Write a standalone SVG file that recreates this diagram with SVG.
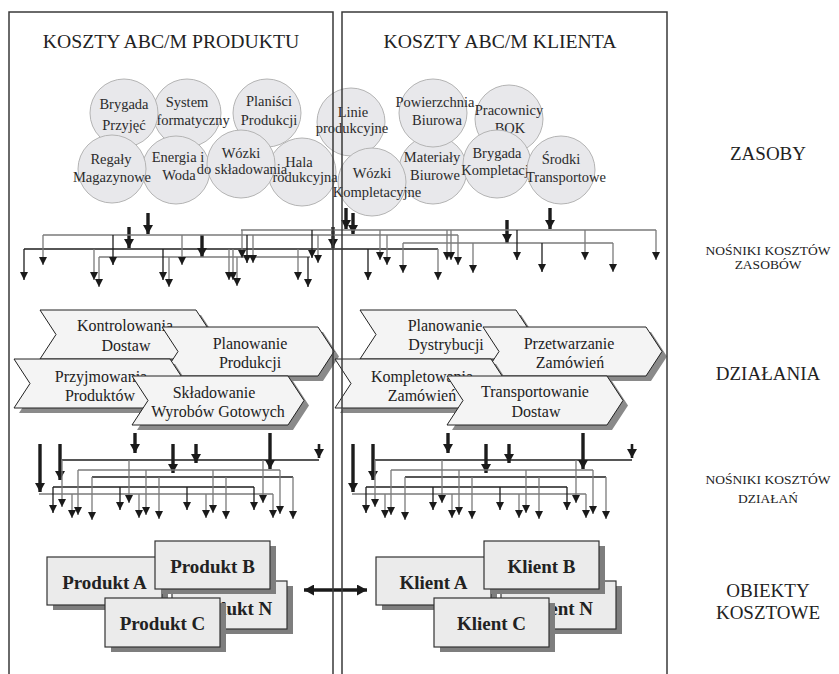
<svg xmlns="http://www.w3.org/2000/svg" xmlns:xlink="http://www.w3.org/1999/xlink" width="839" height="674" viewBox="0 0 839 674">
<style>
.c{fill:#e8e8eb;stroke:#b4b4b4;stroke-width:1}
.ct{font-family:"Liberation Serif","Times New Roman",serif;font-size:14.5px;fill:#2b2b2b;text-anchor:middle}
.t{font-family:"Liberation Serif","Times New Roman",serif;fill:#222;text-anchor:middle}
.hg{stroke:#7a7a7a;stroke-width:1.3;fill:none}
.hk{stroke:#1e1e1e;stroke-width:1.3;fill:none}
.dg{stroke:#7a7a7a;stroke-width:1.3;fill:none;marker-end:url(#ah)}
.dk{stroke:#1e1e1e;stroke-width:1.3;fill:none;marker-end:url(#ah)}
.th{stroke:#1c1c1c;stroke-width:3.4;fill:none;marker-end:url(#ahT)}
.ch{fill:#f4f4f4;stroke:#222;stroke-width:1}
.chs{fill:#8a8a8a}
.cht{font-family:"Liberation Serif","Times New Roman",serif;font-size:16px;fill:#222;text-anchor:middle}
.b{fill:#ebebeb;stroke:#333;stroke-width:1.2}
.bs{fill:#7e7e7e}
.bt{font-family:"Liberation Serif","Times New Roman",serif;font-size:19px;font-weight:bold;fill:#222;text-anchor:middle}
.pan{fill:none;stroke:#3a3a3a;stroke-width:1.5}
</style>
<defs>
<marker id="ah" markerUnits="userSpaceOnUse" markerWidth="8" markerHeight="8" refX="8" refY="4" orient="auto"><path d="M0,0 L8,4 L0,8 Z" fill="#1a1a1a"/></marker>
<marker id="ahT" markerUnits="userSpaceOnUse" markerWidth="9" markerHeight="10" refX="9" refY="5" orient="auto"><path d="M0,0 L9,5 L0,10 Z" fill="#1a1a1a"/></marker>
<marker id="ahD" markerUnits="userSpaceOnUse" markerWidth="10" markerHeight="11" refX="10" refY="5.5" orient="auto-start-reverse"><path d="M0,0 L10,5.5 L0,11 Z" fill="#1a1a1a"/></marker>
<g id="actnet">
<path class="th" d="M40 444V492"/>
<path class="th" d="M60 444V480"/>
<path class="th" d="M135 433V453"/>
<path class="th" d="M173 444V473"/>
<path class="th" d="M196 444V463"/>
<path class="th" d="M270 433V469"/>
<path class="th" d="M319 444V458" style="stroke-width:2.6"/>
<path class="hk" d="M62 460H319"/>
<path class="hg" d="M78 470H280"/>
<path class="hk" d="M92 477H293"/>
<path class="hk" d="M53 487H254"/>
<path class="hg" d="M39 494H273"/>
<path class="dg" d="M62 460V507"/><path class="dg" d="M129 460V503"/><path class="dg" d="M263 460V503"/>
<path class="dg" d="M78 470V515"/><path class="dg" d="M146 470V515"/><path class="dg" d="M213 470V513"/><path class="dg" d="M280 470V514"/>
<path class="dg" d="M92 477V520"/><path class="dg" d="M159 477V519"/><path class="dg" d="M226 477V519"/><path class="dg" d="M293 477V519"/>
<path class="dk" d="M53 487V513"/><path class="dk" d="M120 487V510"/><path class="dk" d="M187 487V510"/><path class="dk" d="M254 487V510"/>
<path class="dg" d="M72 494V518"/><path class="dg" d="M139 494V518"/><path class="dg" d="M206 494V518"/><path class="dg" d="M273 494V518"/>
</g>
</defs>
<rect width="839" height="674" fill="#ffffff"/>

<!-- titles -->
<text class="t" x="171" y="48" style="font-size:19.7px">KOSZTY ABC/M PRODUKTU</text>
<text class="t" x="500" y="48" style="font-size:19.7px">KOSZTY ABC/M KLIENTA</text>

<!-- resources (left) -->
<g id="r-system"><circle class="c" cx="187" cy="113" r="34"/><text class="ct" x="187" y="107">System</text><text class="ct" x="187" y="125">Informatyczny</text></g>
<g id="r-brygada-przyjec"><circle class="c" cx="124" cy="113" r="34"/><text class="ct" x="124" y="109">Brygada</text><text class="ct" x="124" y="130">Przyjęć</text></g>
<g id="r-planisci"><circle class="c" cx="267" cy="113" r="34"/><text class="ct" x="269" y="106">Planiści</text><text class="ct" x="269" y="125">Produkcji</text></g>
<g id="r-energia"><circle class="c" cx="176" cy="170" r="34"/><text class="ct" x="178" y="162">Energia i</text><text class="ct" x="179" y="180">Woda</text></g>
<g id="r-regaly"><circle class="c" cx="112" cy="169" r="34"/><text class="ct" x="111" y="164">Regały</text><text class="ct" x="112" y="182">Magazynowe</text></g>
<g id="r-hala"><circle class="c" cx="302" cy="172" r="34"/><text class="ct" x="299" y="167">Hala</text><text class="ct" x="301" y="182">Produkcyjna</text></g>
<g id="r-wozki-skl"><circle class="c" cx="241" cy="164" r="34"/><text class="ct" x="241" y="158">Wózki</text><text class="ct" x="242" y="174">do składowania</text></g>
<!-- resources (right) -->
<g id="r-linie"><circle class="c" cx="351" cy="122" r="34"/><text class="ct" x="353" y="117">Linie</text><text class="ct" x="352" y="133">produkcyjne</text></g>
<g id="r-materialy"><circle class="c" cx="433" cy="170" r="34"/><text class="ct" x="432" y="162">Materiały</text><text class="ct" x="435" y="180">Biurowe</text></g>
<g id="r-powierzchnia"><circle class="c" cx="433" cy="113" r="34"/><text class="ct" x="435" y="107">Powierzchnia</text><text class="ct" x="437" y="125">Biurowa</text></g>
<g id="r-pracownicy"><circle class="c" cx="509" cy="119" r="34"/><text class="ct" x="509" y="115">Pracownicy</text><text class="ct" x="510" y="133">BOK</text></g>
<g id="r-brygada-kompl"><circle class="c" cx="497" cy="164" r="34"/><text class="ct" x="497" y="158">Brygada</text><text class="ct" x="497" y="175">Kompletacji</text></g>
<g id="r-srodki"><circle class="c" cx="561" cy="170" r="34"/><text class="ct" x="561" y="164">Środki</text><text class="ct" x="566" y="182">Transportowe</text></g>
<g id="r-wozki-kompl"><circle class="c" cx="372" cy="182" r="34"/><text class="ct" x="372" y="178">Wózki</text><text class="ct" x="377" y="197">Kompletacyjne</text></g>

<!-- connectors -->
<g id="connectors">
<path class="th" d="M148 213V234"/>
<path class="th" d="M129 227V248"/>
<path class="th" d="M202 235V257"/>
<path class="th" d="M333 227V248"/>
<path class="th" d="M346 208V229"/>
<path class="th" d="M353 213V234"/>
<path class="th" d="M507 220V243"/>
<path class="th" d="M550 208V229"/>
<path class="hg" d="M241 230H656"/>
<path class="hg" d="M43 235H458"/>
<path class="hk" d="M24 249H438"/>
<path class="hg" d="M99 257H310"/>
<path class="hg" d="M403 243H613"/>
<path class="dg" d="M242 230V258"/><path class="dk" d="M312 230V258"/><path class="dg" d="M380 230V260"/><path class="dg" d="M447 230V260"/><path class="dg" d="M451 230V260"/><path class="dk" d="M517 230V260"/><path class="dg" d="M585 230V260"/><path class="dg" d="M656 230V260"/>
<path class="dg" d="M43 235V265"/><path class="dk" d="M113 235V265"/><path class="dg" d="M182 235V265"/><path class="dk" d="M247 235V263"/><path class="dg" d="M253 235V263"/><path class="dg" d="M318 235V263"/><path class="dg" d="M387 235V265"/><path class="dg" d="M458 235V265"/>
<path class="dk" d="M24 249V280"/><path class="dg" d="M94 249V280"/><path class="dk" d="M163 249V280"/><path class="dg" d="M229 249V280"/><path class="dg" d="M233 249V280"/><path class="dg" d="M298 249V280"/><path class="dk" d="M368 249V280"/><path class="dg" d="M438 249V280"/>
<path class="dg" d="M99 257V287"/><path class="dg" d="M169 257V287"/><path class="dg" d="M237 257V286"/><path class="dk" d="M308 257V287"/>
<path class="dg" d="M403 243V273"/><path class="dg" d="M473 243V273"/><path class="dk" d="M542 243V272"/><path class="dg" d="M613 243V272"/>
<use xlink:href="#actnet" href="#actnet"/>
<use xlink:href="#actnet" href="#actnet" transform="translate(313,0)"/>
<path d="M304 590H367" stroke="#1a1a1a" stroke-width="3.4" fill="none" marker-start="url(#ahD)" marker-end="url(#ahD)"/>
</g>

<!-- activities -->
<g id="a-kontrolowania" transform="translate(40,310)"><path class="chs" transform="translate(5,5)" d="M0 0H156L172 24.5L156 49H0L16 24.5Z"/><path class="ch" d="M0 0H156L172 24.5L156 49H0L16 24.5Z"/><text class="cht" x="85" y="21">Kontrolowania</text><text class="cht" x="86" y="41">Dostaw</text></g>
<g id="a-planowanie-prod" transform="translate(162,327)"><path class="chs" transform="translate(5,5)" d="M0 0H156L172 24.5L156 49H0L16 24.5Z"/><path class="ch" d="M0 0H156L172 24.5L156 49H0L16 24.5Z"/><text class="cht" x="88" y="22">Planowanie</text><text class="cht" x="88" y="41">Produkcji</text></g>
<g id="a-przyjmowania" transform="translate(14,359)"><path class="chs" transform="translate(5,5)" d="M0 0H156L172 24.5L156 49H0L16 24.5Z"/><path class="ch" d="M0 0H156L172 24.5L156 49H0L16 24.5Z"/><text class="cht" x="87" y="23">Przyjmowania</text><text class="cht" x="86" y="42">Produktów</text></g>
<g id="a-skladowanie" transform="translate(132,376)"><path class="chs" transform="translate(5,5)" d="M0 0H156L172 24.5L156 49H0L16 24.5Z"/><path class="ch" d="M0 0H156L172 24.5L156 49H0L16 24.5Z"/><text class="cht" x="82" y="22">Składowanie</text><text class="cht" x="86" y="41">Wyrobów Gotowych</text></g>
<g id="a-planowanie-dystr" transform="translate(360,310)"><path class="chs" transform="translate(5,5)" d="M0 0H156L172 24.5L156 49H0L16 24.5Z"/><path class="ch" d="M0 0H156L172 24.5L156 49H0L16 24.5Z"/><text class="cht" x="85" y="21">Planowanie</text><text class="cht" x="86" y="40">Dystrybucji</text></g>
<g id="a-przetwarzanie" transform="translate(483,327)"><path class="chs" transform="translate(5,5)" d="M0 0H163L179 24.5L163 49H0L16 24.5Z"/><path class="ch" d="M0 0H163L179 24.5L163 49H0L16 24.5Z"/><text class="cht" x="86" y="22">Przetwarzanie</text><text class="cht" x="87" y="41">Zamówień</text></g>
<g id="a-kompletowanie" transform="translate(335,359)"><path class="chs" transform="translate(5,5)" d="M0 0H156L172 24.5L156 49H0L16 24.5Z"/><path class="ch" d="M0 0H156L172 24.5L156 49H0L16 24.5Z"/><text class="cht" x="87" y="23">Kompletowania</text><text class="cht" x="87" y="42">Zamówień</text></g>
<g id="a-transportowanie" transform="translate(447,376)"><path class="chs" transform="translate(5,5)" d="M0 0H160L176 24.5L160 49H0L16 24.5Z"/><path class="ch" d="M0 0H160L176 24.5L160 49H0L16 24.5Z"/><text class="cht" x="88" y="21">Transportowanie</text><text class="cht" x="89" y="41">Dostaw</text></g>

<!-- cost objects -->
<g id="o-produkt-a"><rect class="bs" x="53" y="562" width="115" height="48"/><rect class="b" x="47" y="557" width="115" height="48"/><text class="bt" x="104.5" y="589">Produkt A</text></g>
<g id="o-produkt-n"><rect class="bs" x="178" y="586" width="115" height="48"/><rect class="b" x="172" y="581" width="115" height="48"/><text class="bt" x="229.5" y="615">Produkt N</text></g>
<g id="o-produkt-b"><rect class="bs" x="161" y="546" width="115" height="48"/><rect class="b" x="155" y="541" width="115" height="48"/><text class="bt" x="212.5" y="573">Produkt B</text></g>
<g id="o-produkt-c"><rect class="bs" x="111" y="603" width="115" height="49"/><rect class="b" x="105" y="598" width="115" height="49"/><text class="bt" x="162.5" y="630">Produkt C</text></g>
<g id="o-klient-a"><rect class="bs" x="382" y="562" width="115" height="48"/><rect class="b" x="376" y="557" width="115" height="48"/><text class="bt" x="433.5" y="589">Klient A</text></g>
<g id="o-klient-n"><rect class="bs" x="507" y="586" width="115" height="48"/><rect class="b" x="501" y="581" width="115" height="48"/><text class="bt" x="558.5" y="615">Klient N</text></g>
<g id="o-klient-b"><rect class="bs" x="490" y="546" width="115" height="48"/><rect class="b" x="484" y="541" width="115" height="48"/><text class="bt" x="541.5" y="573">Klient B</text></g>
<g id="o-klient-c"><rect class="bs" x="440" y="603" width="115" height="49"/><rect class="b" x="434" y="598" width="115" height="49"/><text class="bt" x="491.5" y="630">Klient C</text></g>

<!-- panels -->
<g id="panels">
<path class="pan" d="M9 674V12H333V674"/>
<path class="pan" d="M342 674V12H667V674"/>
</g>

<!-- level labels -->
<g id="labels">
<text class="t" x="768" y="160" style="font-size:19px">ZASOBY</text>
<text class="t" x="768" y="255" style="font-size:13.5px">NOŚNIKI KOSZTÓW</text>
<text class="t" x="768" y="269" style="font-size:13.5px">ZASOBÓW</text>
<text class="t" x="768" y="380" style="font-size:19px">DZIAŁANIA</text>
<text class="t" x="768" y="484" style="font-size:13.5px">NOŚNIKI KOSZTÓW</text>
<text class="t" x="768" y="503" style="font-size:13.5px">DZIAŁAŃ</text>
<text class="t" x="768" y="597" style="font-size:19px">OBIEKTY</text>
<text class="t" x="768" y="619" style="font-size:19px">KOSZTOWE</text>
</g>
</svg>
